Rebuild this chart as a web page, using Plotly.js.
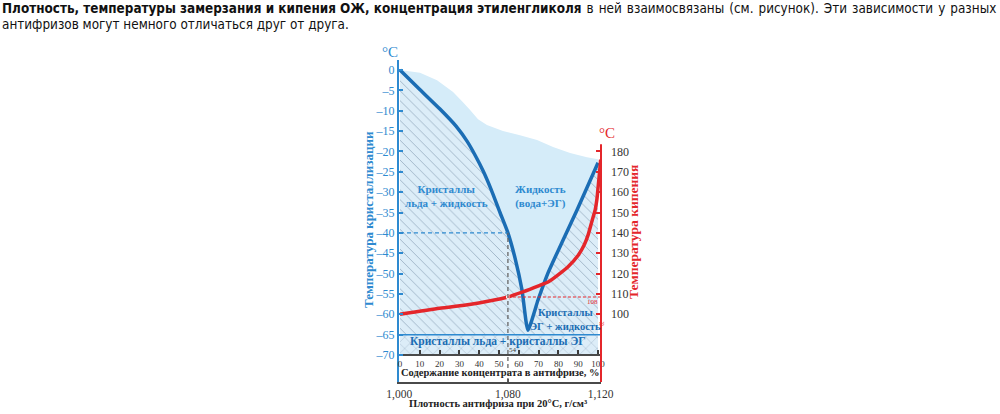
<!DOCTYPE html>
<html><head><meta charset="utf-8">
<script src="https://cdn.plot.ly/plotly-3.0.1.min.js"></script>
<style>
html,body{margin:0;padding:0;background:#fff}
#wrap{position:relative;width:1000px;height:414px}
#chart{position:absolute;left:0;top:0;width:1000px;height:414px}
.intro{position:absolute;left:2px;font-family:'DejaVu Sans Condensed','DejaVu Sans',sans-serif;
  font-size:13.4px;line-height:16px;color:#111;white-space:nowrap;z-index:2}
#l1{top:1px}
#l2{top:17px}
.wide{word-spacing:1.2px}
</style>
</head><body><div id="wrap"><div id="chart"></div>
<div class="intro" id="l1"><b>Плотность, температуры замерзания и кипения ОЖ, концентрация этиленгликоля</b><span class="wide"> в ней взаимосвязаны (см. рисунок). Эти зависимости у разных</span></div>
<div class="intro" id="l2">антифризов могут немного отличаться друг от друга.</div></div>
<script>
// ---------- data ----------
const concTicks = [0,10,20,30,40,50,60,70,80,90,100];        // % concentrate
const densityLabels = ['1,000','1,080','1,120'];               // g/cm3
const densityConc = [-0.4, 54.5, 101.3];                       // where those densities sit on the % scale
const leftTicks = [0,-5,-10,-15,-20,-25,-30,-35,-40,-45,-50,-55,-60,-65,-70];
const rightTicks = [100,110,120,130,140,150,160,170,180];

// upper edge of the light-blue "liquid" area (°C, left scale)
const liquidConc = [0, 10.1, 18.7, 26.8, 31.8, 35.4, 39.4, 43.9, 52, 60.6, 69.2, 77.3, 85.9, 94.4, 100];
const liquidTemp = [0, -0.7, -2.5, -5.4, -7.9, -9.8, -12.1, -13.5, -15, -16, -17.2, -18.9, -20.4, -21.4, -21.9];

// crystallisation (freezing) temperature, °C
const freezeConc = [0, 10, 20.2, 28.3, 34, 38, 42, 46, 50.5, 54.5, 58.1, 61.6, 64.6, 69.7, 74.7, 82.3, 89.4, 100];
const freezeTemp = [0, -4.8, -9.6, -13.8, -17.6, -21, -24.8, -29.3, -35, -40, -46.2, -54, -63.9, -56.5, -49.9, -41.8, -34.4, -22.8];

// boiling temperature, °C (right scale)
const boilConc = [0, 20, 35, 45, 54.5, 62, 70, 75, 80, 85, 90, 93, 95, 97, 98.5, 99.5, 100, 100.8, 101.3];
const boilTemp = [100, 103, 104.8, 106.5, 108.5, 111, 114, 116, 119.5, 123.5, 129, 134, 139, 146, 151, 157, 162, 170, 176];

const eutecticTemp = -65;   // ice + EG crystals below this
const markConc = 54.5, markFreeze = -40, markBoil = 108.5;
const T_MIN = -70;

// ---------- geometry ----------
const W = 1000, H = 414;
const M = {l:399, r:399, t:60, b:32};
const xRange = [-0.5, 101.5];
const yRange = [-76.63, 2.456];
const y2Range = [2*yRange[0]+220, 2*yRange[1]+220];
const plotW = W - M.l - M.r, plotH = H - M.t - M.b;
const px = x => (x - M.l) / plotW;          // page pixel -> paper x
const py = y => (H - M.b - y) / plotH;      // page pixel -> paper y

const BLUE = '#1b6db4', LBLUE = '#2e8ad0', RED = '#e4262b', DARK = '#3c3c3c';
const SERIF = 'Liberation Serif, Times New Roman, serif';

const xs0 = concTicks[0], xs1 = concTicks[concTicks.length-1];

const traces = [
  { // light blue liquid area
    x: liquidConc.concat([xs1, xs0]),
    y: liquidTemp.concat([T_MIN, T_MIN]),
    fill: 'toself', fillcolor: '#d5ecf9', mode: 'none', hoverinfo: 'skip', showlegend: false
  },
  { // hatched crystals + liquid area under freezing curve
    x: freezeConc.concat([xs1, xs0]),
    y: freezeTemp.concat([eutecticTemp, eutecticTemp]),
    fill: 'toself', mode: 'none', hoverinfo: 'skip', showlegend: false,
    fillpattern: {shape: '\\', size: 7, solidity: 0.12, bgcolor: '#dcedf8', fgcolor: '#98afc2'}
  },
  { // cross-hatched band (ice + EG crystals)
    x: [xs0, xs1, xs1, xs0],
    y: [T_MIN, T_MIN, eutecticTemp, eutecticTemp],
    fill: 'toself', mode: 'none', hoverinfo: 'skip', showlegend: false,
    fillpattern: {shape: 'x', size: 8, solidity: 0.1, bgcolor: '#dcedf8', fgcolor: '#98afc2'}
  },
  { // freezing curve
    x: freezeConc, y: freezeTemp, mode: 'lines', line: {color: BLUE, width: 3.5, shape: 'spline', smoothing: 0.5},
    hoverinfo: 'skip', showlegend: false
  },
  { // boiling curve
    x: boilConc, y: boilTemp, yaxis: 'y2', mode: 'lines', line: {color: RED, width: 3.5, shape: 'spline', smoothing: 0.5},
    hoverinfo: 'skip', showlegend: false
  },
  { // intersection dot
    x: [markConc], y: [markBoil], yaxis: 'y2', mode: 'markers',
    marker: {color: '#fff', size: 4}, hoverinfo: 'skip', showlegend: false
  }
];

const shapes = [
  {type:'line', xref:'x', yref:'y', x0:xs0, x1:markConc, y0:markFreeze, y1:markFreeze,
   line:{color:LBLUE, width:1.3, dash:'4px,3px'}, layer:'above'},
  {type:'line', xref:'x', yref:'paper', x0:markConc, x1:markConc, y0:0, y1:(markFreeze-yRange[0])/(yRange[1]-yRange[0]),
   line:{color:'#666', width:1.3, dash:'4px,3px'}, layer:'above'},
  {type:'line', xref:'x', yref:'y2', x0:markConc, x1:xRange[1], y0:markBoil, y1:markBoil,
   line:{color:RED, width:1.2, dash:'3px,2px'}, layer:'above'},
  {type:'line', xref:'paper', yref:'y', x0:0, x1:1, y0:eutecticTemp, y1:eutecticTemp,
   line:{color:LBLUE, width:1.5}, layer:'above'},
  {type:'line', xref:'paper', yref:'y2', x0:1, x1:1, y0:y2Range[0], y1:183.5,
   line:{color:RED, width:2}, layer:'above'}
];

const ann = (text, x, y, o) => Object.assign({text, xref:'paper', yref:'paper', x:px(x), y:py(y),
  showarrow:false, xanchor:'center', yanchor:'middle', font:{family:SERIF, size:11, color:BLUE}}, o||{});

const annotations = [
  ann('°C', 390, 52, {font:{family:SERIF, size:15, color:LBLUE}}),
  ann('°C', 607, 133, {font:{family:SERIF, size:15, color:RED}}),
  ann('<b>Температура кристаллизации</b>', 368, 220, {textangle:-90, font:{family:SERIF, size:13, color:LBLUE}}),
  ann('<b>Температура кипения</b>', 633, 232, {textangle:-90, font:{family:SERIF, size:13.5, color:RED}}),
  ann('<b>Кристаллы<br>льда + жидкость</b>', 446, 196, {font:{family:SERIF, size:11, color:LBLUE}}),
  ann('<b>Жидкость<br>(вода+ЭГ)</b>', 540, 196, {font:{family:SERIF, size:11, color:LBLUE}}),
  ann('<b>Кристаллы<br>ЭГ + жидкость</b>', 565, 319, {font:{family:SERIF, size:10.5, color:BLUE}}),
  ann('<b>Кристаллы льда + кристаллы ЭГ</b>', 498, 341, {font:{family:SERIF, size:11.5, color:BLUE}}),
  ann(String(Math.round(markBoil-0.5)), 592, 302, {font:{family:SERIF, size:7, color:RED}}),
  ann(String(Math.floor(markConc)), 513, 350, {font:{family:SERIF, size:7, color:DARK}}),
  ann('≈', 601.5, 323, {font:{family:SERIF, size:10, color:RED}}),
  ann('<b>Содержание концентрата в антифризе, %</b>', 500, 372, {font:{family:SERIF, size:10.5, color:'#222'}}),
  ann('<b>Плотность антифриза при 20°C, г/см³</b>', 498, 403, {font:{family:SERIF, size:10.5, color:'#222'}})
];

const layout = {
  width: W, height: H, margin: M, paper_bgcolor:'#fff', plot_bgcolor:'rgba(0,0,0,0)',
  showlegend: false,
  xaxis: {range: xRange, anchor:'free', position:(T_MIN-yRange[0])/(yRange[1]-yRange[0]),
    tickvals: concTicks, ticks:'inside', ticklen:4, tickwidth:2, tickcolor:DARK,
    showline:true, linecolor:'#4a4a4a', linewidth:2, showgrid:false, zeroline:false,
    tickfont:{family:SERIF, size:9, color:'#333'}, fixedrange:true},
  xaxis2: {range: xRange, overlaying:'x', anchor:'y', side:'bottom',
    tickvals: densityConc, ticktext: densityLabels, ticks:'inside', ticklen:3, tickwidth:2, tickcolor:DARK,
    showline:true, linecolor:'#4a4a4a', linewidth:2, showgrid:false, zeroline:false,
    tickfont:{family:SERIF, size:11.5, color:'#333'}, fixedrange:true},
  yaxis: {range: yRange, tickvals: leftTicks, ticktext: leftTicks.map(v => v < 0 ? '–' + (-v) : String(v)),
    ticks:'inside', ticklen:4, tickwidth:2, tickcolor:LBLUE,
    showline:true, linecolor:LBLUE, linewidth:2, showgrid:false, zeroline:false,
    tickfont:{family:SERIF, size:12, color:LBLUE}, fixedrange:true},
  yaxis2: {range: y2Range, overlaying:'y', side:'right', anchor:'x',
    tickvals: rightTicks, ticks:'inside', ticklen:5, tickwidth:2, tickcolor:RED,
    showline:false, showgrid:false, zeroline:false, ticklabelstandoff:9,
    tickfont:{family:SERIF, size:12, color:'#333'}, fixedrange:true},
  shapes, annotations
};

// attach xaxis2 to an invisible trace so it is drawn
traces.push({x: densityConc, y: [T_MIN, T_MIN, T_MIN], xaxis:'x2', mode:'none', hoverinfo:'skip', showlegend:false});

Plotly.newPlot('chart', traces, layout, {staticPlot:true, displayModeBar:false});
</script></body></html>
